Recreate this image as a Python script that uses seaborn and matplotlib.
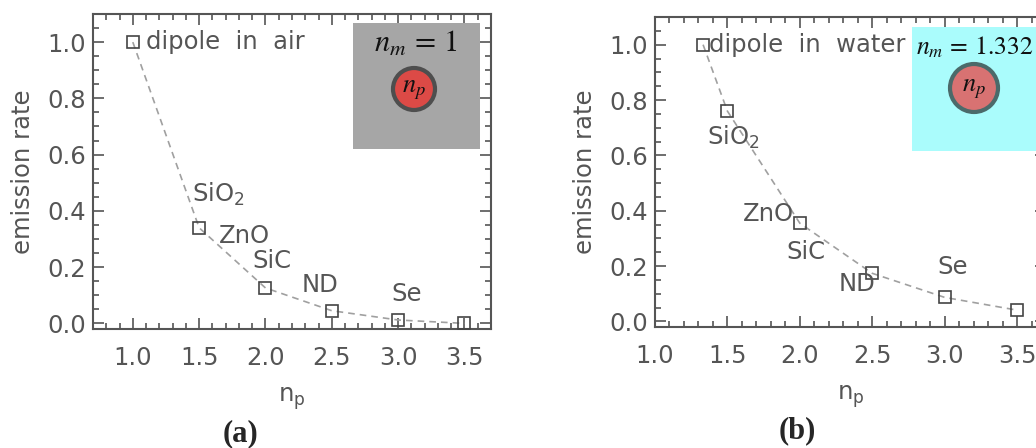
import numpy as np
import pandas as pd
import matplotlib
matplotlib.use("Agg")
import matplotlib.pyplot as plt
import seaborn as sns
from matplotlib.patches import Circle
from matplotlib.ticker import MultipleLocator

# ---- data ----
labels_air = ["SiO$_\\mathregular{2}$", "ZnO", "SiC", "ND", "Se"]
np_air = [1.0, 1.5, 2.0, 2.5, 3.0, 3.5]
rate_air = [1.0, 0.34, 0.126, 0.045, 0.012, 0.0]

np_water = [1.332, 1.5, 2.0, 2.5, 3.0, 3.5]
rate_water = [1.0, 0.76, 0.355, 0.174, 0.087, 0.041]

xticks = [1.0, 1.5, 2.0, 2.5, 3.0, 3.5]
yticks = [0.0, 0.2, 0.4, 0.6, 0.8, 1.0]

sns.set_theme(style="ticks")
plt.rcParams["font.family"] = ["DejaVu Sans"]

TXT = "#555555"
SPN = "#555555"
FS = 17.5

fig = plt.figure(figsize=(10.36, 4.48), dpi=100)
W, H = 1036, 448


def px_axes(x0, y0, x1, y1):
    return fig.add_axes([x0 / W, 1 - y1 / H, (x1 - x0) / W, (y1 - y0) / H])


def style_axes(ax, xlim):
    ax.set_xlim(*xlim)
    ax.set_ylim(-0.02, 1.1)
    ax.set_xticks(xticks)
    ax.set_xticklabels([f"{v:.1f}" for v in xticks])
    ax.set_yticks(yticks)
    ax.set_yticklabels([f"{v:.1f}" for v in yticks])
    ax.xaxis.set_minor_locator(MultipleLocator(0.1))
    ax.yaxis.set_minor_locator(MultipleLocator(0.05))
    ax.tick_params(which="both", direction="in", top=True, right=True,
                   color=SPN, width=1.2)
    ax.tick_params(which="major", length=8, labelsize=FS, labelcolor=TXT)
    ax.tick_params(axis="x", which="major", pad=12)
    ax.tick_params(axis="y", which="major", pad=5)
    ax.tick_params(which="minor", length=4)
    for s in ax.spines.values():
        s.set_color(SPN)
        s.set_linewidth(1.5)
        s.set_visible(True)
    ax.set_xlabel("n$_\\mathregular{p}$", fontsize=FS, color=TXT, labelpad=11)
    ax.set_ylabel("emission rate", fontsize=FS, color=TXT, labelpad=9)


def draw(ax, xs, ys):
    df = pd.DataFrame({"np": xs, "rate": ys})
    sns.lineplot(data=df, x="np", y="rate", ax=ax, color="#a0a0a0",
                 linestyle=(0, (4, 3)), linewidth=1.2, zorder=2)
    ax.plot(df["np"], df["rate"], linestyle="none", marker="s", markersize=8,
            markerfacecolor="none", markeredgecolor="#444444",
            markeredgewidth=1.2, zorder=3)


# ---- panel (a) ----
ax1 = px_axes(93, 14, 491, 329)
draw(ax1, np_air, rate_air)
style_axes(ax1, (0.7, 3.7))
ax1.text(1.10, 1.0, "dipole  in  air", fontsize=FS, color=TXT, ha="left", va="center")
pos_a = [(1.45, 0.46), (1.65, 0.31), (1.90, 0.22), (2.27, 0.135), (2.95, 0.105)]
for lab, (x, y) in zip(labels_air, pos_a):
    ax1.text(x, y, lab, fontsize=FS, color=TXT, ha="left", va="center")

# ---- panel (b) ----
ax2 = px_axes(655, 17, 1046, 327)
draw(ax2, np_water, rate_water)
style_axes(ax2, (1.0, 3.7))
ax2.text(1.37, 1.0, "dipole  in  water", fontsize=FS, color=TXT, ha="left", va="center")
pos_b = [(1.36, 0.666), (1.61, 0.39), (1.905, 0.25), (2.27, 0.137), (2.95, 0.195)]
for lab, (x, y) in zip(labels_air, pos_b):
    ax2.text(x, y, lab, fontsize=FS, color=TXT, ha="left", va="center")


# ---- insets ----
def inset(x0, y0, x1, y1, bg, cx, cy, r, fill, edge, label, lfs):
    ia = px_axes(x0, y0, x1, y1)
    ia.set_xlim(0, x1 - x0)
    ia.set_ylim(0, y1 - y0)
    ia.set_facecolor(bg)
    ia.set_xticks([])
    ia.set_yticks([])
    for s in ia.spines.values():
        s.set_visible(False)
    ia.add_patch(Circle((cx - x0, (y1 - y0) - (cy - y0)), r, facecolor=fill,
                        edgecolor=edge, linewidth=3))
    ia.text(cx - x0, (y1 - y0) - (cy - y0), r"$n_p$", fontsize=19,
            math_fontfamily="stix", ha="center", va="center", color="#111111")
    ia.text(63, (y1 - y0) - 20, label, fontsize=lfs,
            math_fontfamily="stix", ha="center", va="center", color="#111111")
    ia.set_zorder(5)
    return ia


inset(353, 23, 480, 149, "#a6a6a6", 414, 89, 21, "#dc4a46", "#4e4e4e", r"$n_m\,=\,1$", 22)
inset(912, 27, 1040, 151, "#aafcfc", 974, 88, 24, "#d87272", "#4b6a6a", r"$n_m\,=\,1.332$", 18.5)

# ---- panel letters ----
fig.text(240 / W, 1 - 434 / H, "(a)", fontsize=22, ha="center", va="center",
         family="Liberation Serif", fontweight="bold")
fig.text(797 / W, 1 - 431 / H, "(b)", fontsize=22, ha="center", va="center",
         family="Liberation Serif", fontweight="bold")

fig.savefig("out.png", dpi=100)
